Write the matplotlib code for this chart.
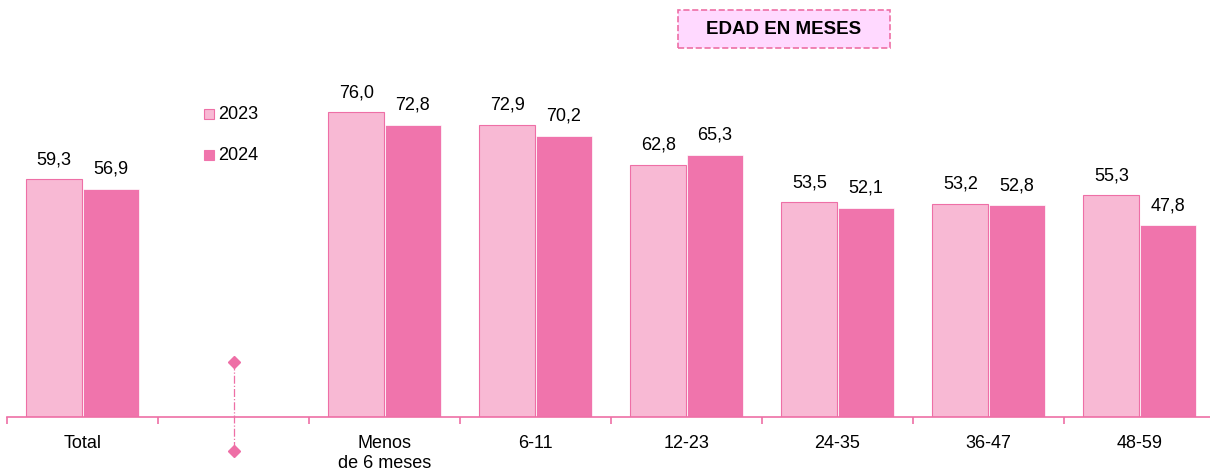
import numpy as np
import matplotlib.pyplot as plt
from matplotlib.patches import Rectangle

plt.rcParams["font.family"] = ["Liberation Sans", "DejaVu Sans"]

categories = ["Total", "", "Menos\nde 6 meses", "6-11", "12-23", "24-35", "36-47", "48-59"]
val_2023 = [59.3, np.nan, 76.0, 72.9, 62.8, 53.5, 53.2, 55.3]
val_2024 = [56.9, np.nan, 72.8, 70.2, 65.3, 52.1, 52.8, 47.8]
years = ["2023", "2024"]

c23 = "#F8B9D4"
c24 = "#F074AC"
pink = "#EE6FA6"

fig = plt.figure(figsize=(12.1, 4.75), dpi=100)
# axes runs a few pixels past the right edge so every group gets the same width
ax = fig.add_axes([7 / 1210, 58 / 475, 1208 / 1210, 417 / 475])

x = np.arange(len(categories))
w = 0.371
off = 0.187
ax.bar(x - off, val_2023, w, color=c23, edgecolor=pink, linewidth=0.8)
ax.bar(x + off, val_2024, w, color=c24, edgecolor="white", linewidth=0.5)

for xi, v in zip(x, val_2023):
    if not np.isnan(v):
        ax.text(xi - off, v + 2.8, f"{v:.1f}".replace(".", ","), ha="center", va="bottom", fontsize=13)
for xi, v in zip(x, val_2024):
    if not np.isnan(v):
        ax.text(xi + off, v + 2.8, f"{v:.1f}".replace(".", ","), ha="center", va="bottom", fontsize=13)

ax.set_xlim(-0.5, 7.5)
ax.set_ylim(0, 104)
ax.set_yticks([])
for s in ["top", "right", "left"]:
    ax.spines[s].set_visible(False)
ax.spines["bottom"].set_color(pink)
ax.spines["bottom"].set_linewidth(1.2)

ax.set_xticks(np.arange(-0.5, 8.0, 1.0))
ax.set_xticklabels([])
ax.tick_params(axis="x", colors=pink, length=5, width=1.2, direction="out")
for xi, lab in zip(x, categories):
    ax.text(xi, -4.5, lab, ha="center", va="top", fontsize=13, linespacing=1.25)

# empty slot marker
ax.plot([1, 1], [13.7, -8.5], color=pink, linestyle="-.", linewidth=0.9, clip_on=False)
ax.plot([1, 1], [13.7, -8.5], linestyle="none", marker="D", markersize=6,
        color=pink, clip_on=False)

# legend
for yv, col, lab in [(75.5, c23, years[0]), (65.3, c24, years[1])]:
    ax.plot(0.838, yv, marker="s", markersize=7.5, color=col,
            markeredgecolor=pink if col == c23 else col, markeredgewidth=0.8, linestyle="none")
    ax.text(0.9, yv, lab, va="center", ha="left", fontsize=13)

# header box
fig.patches.append(Rectangle((678 / 1210, 1 - 48 / 475), 212 / 1210, 38 / 475,
                             transform=fig.transFigure, facecolor="#FFD9FF",
                             edgecolor=pink, linestyle="--", linewidth=1.2))
fig.text(784 / 1210, 1 - 29 / 475, "EDAD EN MESES", ha="center", va="center",
         fontsize=13.5, fontweight="bold")

fig.savefig("out.png", dpi=100)
